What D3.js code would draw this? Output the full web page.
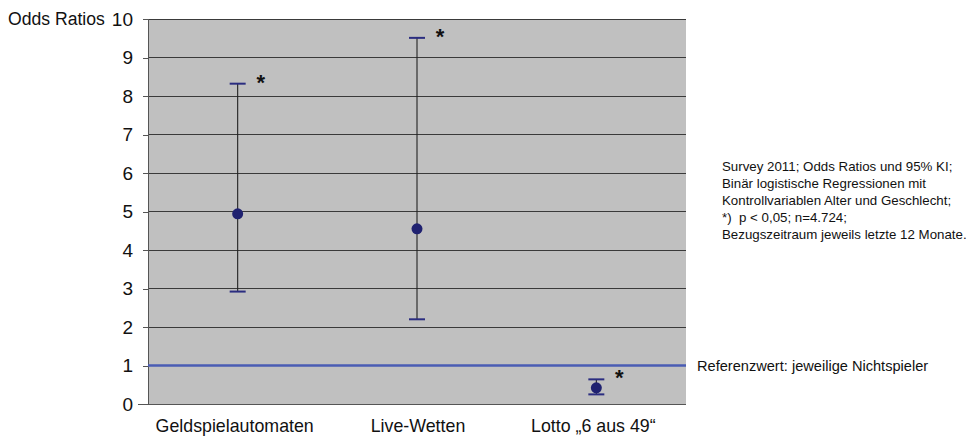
<!DOCTYPE html>
<html>
<head>
<meta charset="utf-8">
<script src="https://cdn.jsdelivr.net/npm/d3@7"></script>
<style>
  html, body { margin: 0; padding: 0; background: #fff; }
  svg { display: block; font-family: Arial, "Liberation Sans", sans-serif; }
</style>
</head>
<body>
<svg id="chart" width="967" height="437"></svg>
<script>
// Odds ratios with 95% confidence intervals per gambling type
const categories = ["Geldspielautomaten", "Live-Wetten", "Lotto \u201E6 aus 49\u201C"];
const oddsRatio = [4.94, 4.55, 0.42];
const ciLower = [2.92, 2.2, 0.25];
const ciUpper = [8.32, 9.51, 0.64];
const significant = [true, true, true];
const yTicks = [0, 1, 2, 3, 4, 5, 6, 7, 8, 9, 10];
const referenceValue = 1;
const noteLines = [
  "Survey 2011; Odds Ratios und 95% KI;",
  "Binär logistische Regressionen mit",
  "Kontrollvariablen Alter und Geschlecht;",
  "*)  p < 0,05; n=4.724;",
  "Bezugszeitraum jeweils letzte 12 Monate."
];

const svg = d3.select("#chart");
const plotLeft = 148, plotRight = 686, plotTop = 19, plotBottom = 404;

const x = d3.scaleBand().domain(categories).range([plotLeft, plotRight]);
const y = d3.scaleLinear().domain([0, 10]).range([plotBottom, plotTop]);

// plot background
svg.append("rect")
  .attr("x", plotLeft).attr("y", plotTop)
  .attr("width", plotRight - plotLeft).attr("height", plotBottom - plotTop)
  .attr("fill", "#c0c0c0");

// horizontal gridlines
svg.append("g").selectAll("line").data(yTicks.filter(d => d > 0)).join("line")
  .attr("x1", plotLeft).attr("x2", plotRight)
  .attr("y1", d => y(d)).attr("y2", d => y(d))
  .attr("stroke", "#3a3a3a").attr("stroke-width", 1)
  .attr("shape-rendering", "crispEdges");

// y axis
const yAxis = d3.axisLeft(y).tickValues(yTicks).tickSize(5).tickPadding(10).tickFormat(d3.format("d"));
const gy = svg.append("g").attr("transform", `translate(${plotLeft},0)`).call(yAxis);
gy.select(".domain").attr("stroke", "#555").attr("shape-rendering", "crispEdges");
gy.selectAll(".tick line").attr("stroke", "#555").attr("shape-rendering", "crispEdges");
gy.selectAll(".tick text").attr("font-size", 19).attr("fill", "#111")
  .attr("font-family", "Arial, 'Liberation Sans', sans-serif");

svg.append("text")
  .attr("x", 8).attr("y", y(10)).attr("dy", "0.35em")
  .attr("font-size", 17.6).attr("fill", "#111")
  .text("Odds Ratios");

// x axis baseline and category labels
svg.append("line")
  .attr("x1", plotLeft - 10).attr("x2", plotRight)
  .attr("y1", plotBottom).attr("y2", plotBottom)
  .attr("stroke", "#555").attr("shape-rendering", "crispEdges");

svg.append("g").selectAll("text").data(categories).join("text")
  .attr("x", (d, i) => x(d) + x.bandwidth() / 2 - 3 + (i === 1 ? 4 : 0))
  .attr("y", 432)
  .attr("text-anchor", "middle")
  .attr("font-size", 17.8).attr("fill", "#111")
  .text(d => d);

// reference line
svg.append("line")
  .attr("x1", plotLeft).attr("x2", plotRight)
  .attr("y1", y(referenceValue)).attr("y2", y(referenceValue))
  .attr("stroke", "#4a5cb4").attr("stroke-width", 2.5);

svg.append("text")
  .attr("x", 697).attr("y", y(referenceValue)).attr("dy", "0.35em")
  .attr("font-size", 14.6).attr("fill", "#111")
  .text("Referenzwert: jeweilige Nichtspieler");

// error bars
const rows = categories.map((c, i) => ({
  c, or: oddsRatio[i], lo: ciLower[i], hi: ciUpper[i], sig: significant[i]
}));
const cx = d => x(d.c) + x.bandwidth() / 2;
const marks = svg.append("g").selectAll("g").data(rows).join("g");

marks.append("line")
  .attr("x1", cx).attr("x2", cx)
  .attr("y1", d => y(d.lo)).attr("y2", d => y(d.hi))
  .attr("stroke", "#222").attr("stroke-width", 1.1);

marks.append("line")
  .attr("x1", d => cx(d) - 8).attr("x2", d => cx(d) + 8)
  .attr("y1", d => y(d.hi)).attr("y2", d => y(d.hi))
  .attr("stroke", "#2b2d80").attr("stroke-width", 2);

marks.append("line")
  .attr("x1", d => cx(d) - 8).attr("x2", d => cx(d) + 8)
  .attr("y1", d => y(d.lo)).attr("y2", d => y(d.lo))
  .attr("stroke", "#2b2d80").attr("stroke-width", 2);

marks.append("circle")
  .attr("cx", cx).attr("cy", d => y(d.or))
  .attr("r", 5.5).attr("fill", "#1f2170");

marks.filter(d => d.sig).append("text")
  .attr("x", d => cx(d) + 23).attr("y", d => y(d.hi) + 6)
  .attr("text-anchor", "middle")
  .attr("font-size", 22).attr("font-weight", "bold").attr("fill", "#111")
  .text("*");

// notes
svg.append("g").selectAll("text").data(noteLines).join("text")
  .attr("x", 722).attr("y", (d, i) => 171 + i * 17)
  .attr("font-size", 13.3).attr("fill", "#111")
  .style("white-space", "pre")
  .text(d => d);
</script>
</body>
</html>
